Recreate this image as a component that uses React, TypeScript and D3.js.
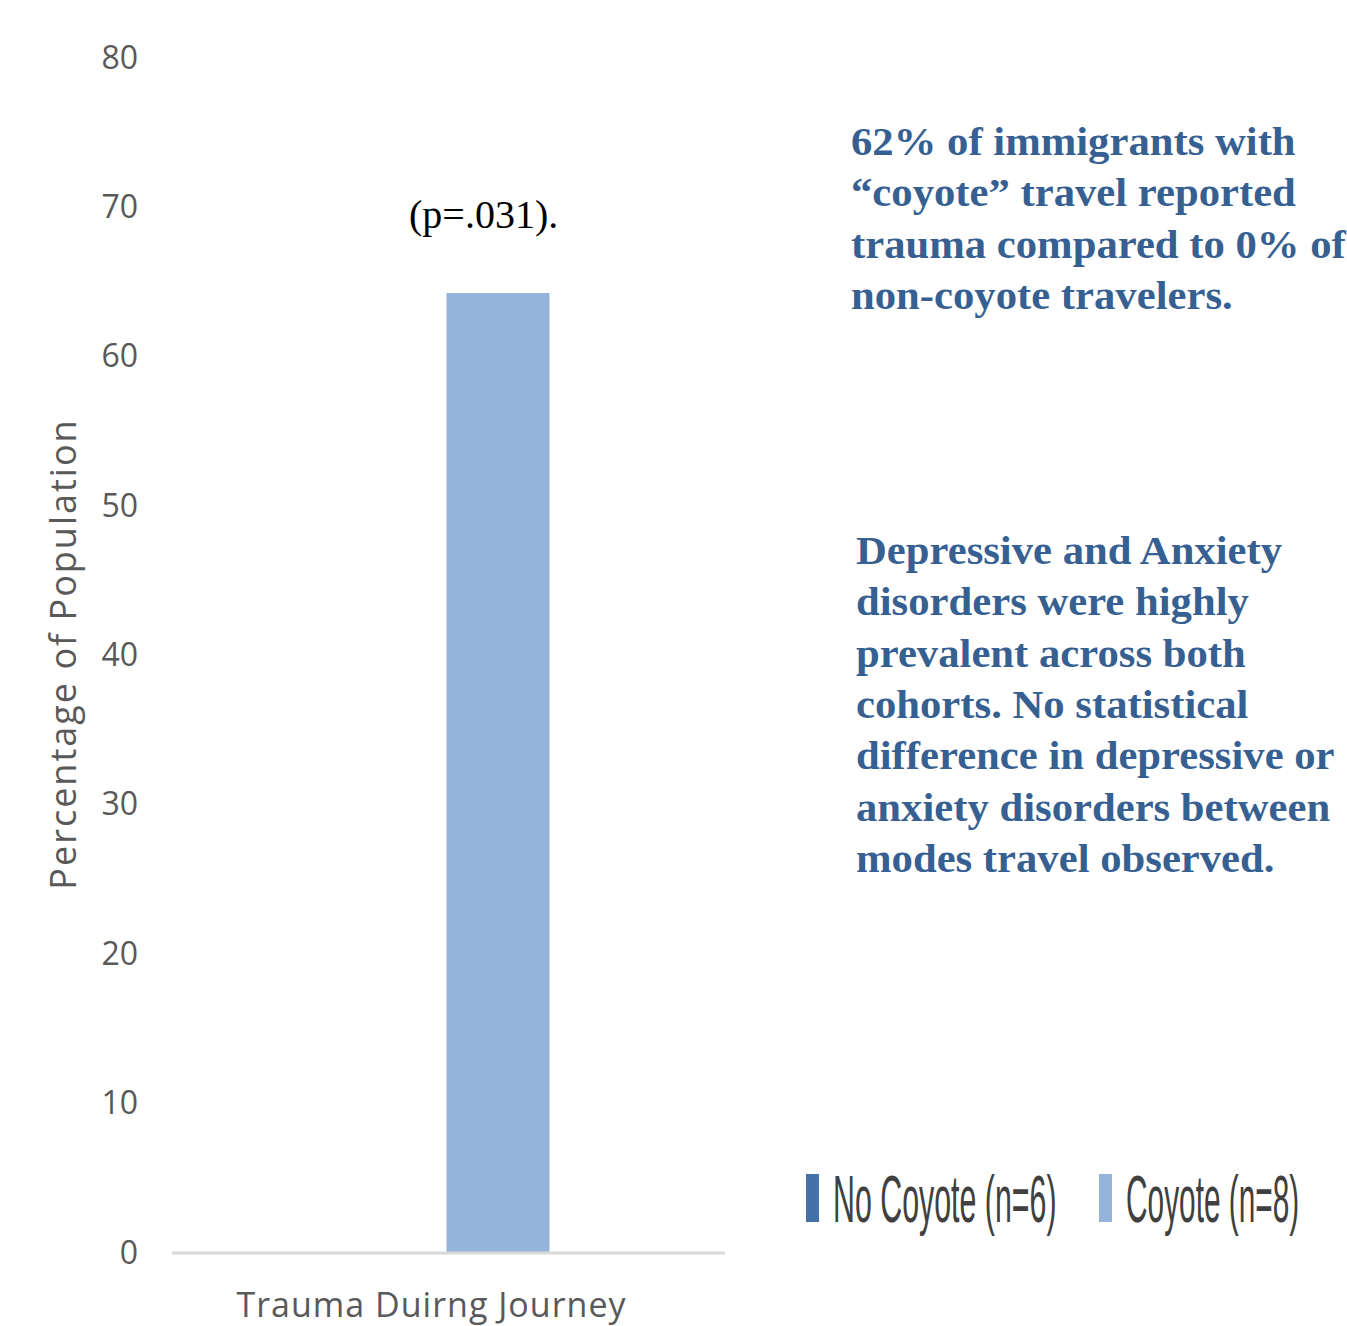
import React from "react";
import * as d3 from "d3";

// Chart data
const categories = ["Trauma Duirng Journey"];
const seriesNames = ["No Coyote (n=6)", "Coyote (n=8)"];
const noCoyoteValues = [0];
const coyoteValues = [64.2];
const yTicks = [0, 10, 20, 30, 40, 50, 60, 70, 80];

const noteTop = [
  "62% of immigrants with",
  "\u201ccoyote\u201d travel reported",
  "trauma compared to 0% of",
  "non-coyote travelers.",
];
const noteBottom = [
  "Depressive and Anxiety",
  "disorders were highly",
  "prevalent across both",
  "cohorts. No statistical",
  "difference in depressive or",
  "anxiety disorders between",
  "modes travel observed.",
];

const W = 1347;
const H = 1326;
const colors = ["#4472a8", "#95b4dc"];

export default function App() {
  const y = d3.scaleLinear().domain([0, 80]).range([1252, 57]);
  const x0 = d3.scaleBand().domain(categories).range([172, 725]).paddingInner(0).paddingOuter(0);
  const x1 = d3
    .scaleBand()
    .domain(seriesNames)
    .range([x0.bandwidth() / 2 - 105, x0.bandwidth() / 2 + 101])
    .padding(0);

  const series = [noCoyoteValues, coyoteValues];

  return (
    <svg
      width={W}
      height={H}
      style={{ position: "absolute", left: 0, top: 0, background: "#fff" }}
    >
      {/* y tick labels */}
      {yTicks.map((t) => (
        <text
          key={t}
          x={138}
          y={y(t)}
          dy="0.36em"
          textAnchor="end"
          fontFamily="'Open Sans', sans-serif"
          fontSize={32}
          fill="#595959"
        >
          {t}
        </text>
      ))}

      {/* y axis title */}
      <text
        transform={`translate(76,654) rotate(-90)`}
        textAnchor="middle"
        fontFamily="'Open Sans', sans-serif"
        fontSize={36}
        letterSpacing={2}
        fill="#595959"
      >
        Percentage of Population
      </text>

      {/* bars */}
      {categories.map((c, ci) => (
        <g key={c} transform={`translate(${x0(c)},0)`}>
          {seriesNames.map((s, si) => {
            const v = series[si][ci];
            return (
              <rect
                key={s}
                x={x1(s)}
                y={y(v)}
                width={x1.bandwidth()}
                height={y(0) - y(v)}
                fill={colors[si]}
              />
            );
          })}
        </g>
      ))}

      {/* category axis */}
      <line x1={172} x2={725} y1={1253} y2={1253} stroke="#d9d9d9" strokeWidth={3} />
      {categories.map((c) => (
        <text
          key={c}
          x={(x0(c) as number) + x0.bandwidth() / 2 - 17}
          y={1317}
          textAnchor="middle"
          fontFamily="'Open Sans', sans-serif"
          fontSize={34}
          letterSpacing={1}
          fill="#595959"
        >
          {c}
        </text>
      ))}

      {/* significance */}
      <text x={409} y={228} fontFamily="'Liberation Serif', serif" fontSize={40} fill="#000">
        (p=.031).
      </text>

      {/* notes */}
      <g fontFamily="'Liberation Serif', serif" fontWeight="bold" fontSize={39} fill="#376092">
        {noteTop.map((l, i) => (
          <text key={i} transform={`translate(851,${155 + i * 51.3}) scale(1.095,1)`}>
            {l}
          </text>
        ))}
        {noteBottom.map((l, i) => (
          <text key={i} transform={`translate(856,${564 + i * 51.3}) scale(1.095,1)`}>
            {l}
          </text>
        ))}
      </g>

      {/* legend */}
      {seriesNames.map((s, i) => {
        const lx = i === 0 ? 806 : 1099;
        const sx = i === 0 ? 0.46 : 0.452;
        return (
          <g key={s}>
            <rect x={lx} y={1174} width={13} height={48} fill={colors[i]} />
            <text
              transform={`translate(${lx + 27},1222) scale(${sx},1)`}
              fontFamily="'Liberation Sans Narrow', 'Liberation Sans', sans-serif"
              fontSize={66}
              fill="#404040"
            >
              {s}
            </text>
          </g>
        );
      })}
    </svg>
  );
}
